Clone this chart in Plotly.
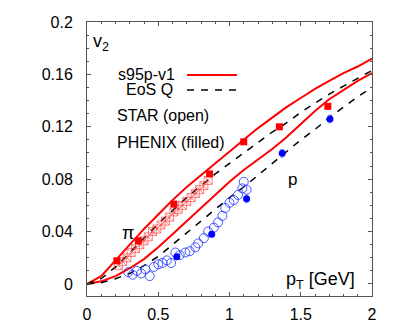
import plotly.graph_objects as go

# --- hydro curves (pT in GeV, v2) ---
pt_curve = [0.0, 0.1, 0.2, 0.3, 0.4, 0.5, 0.6, 0.7, 0.8, 0.9, 1.0, 1.1, 1.2, 1.3, 1.4, 1.5, 1.6, 1.7, 1.8, 1.9, 2.0]
pion_s95p = [0.0, 0.006, 0.018, 0.030, 0.042, 0.053, 0.064, 0.074, 0.083, 0.092, 0.101, 0.110, 0.119, 0.127, 0.135, 0.142, 0.149, 0.155, 0.161, 0.166, 0.172]
proton_s95p = [0.0, 0.002, 0.006, 0.012, 0.019, 0.028, 0.038, 0.048, 0.058, 0.068, 0.078, 0.087, 0.095, 0.103, 0.112, 0.122, 0.132, 0.141, 0.148, 0.155, 0.161]
pion_eosq = [0.0, 0.004, 0.013, 0.024, 0.035, 0.046, 0.056, 0.066, 0.075, 0.084, 0.092, 0.100, 0.108, 0.116, 0.123, 0.131, 0.138, 0.145, 0.151, 0.157, 0.163]
proton_eosq = [0.0, 0.001, 0.004, 0.008, 0.014, 0.021, 0.030, 0.039, 0.048, 0.057, 0.066, 0.074, 0.083, 0.092, 0.101, 0.110, 0.118, 0.127, 0.135, 0.143, 0.150]

# --- STAR (open) ---
star_pi_pt = [0.22, 0.25, 0.28, 0.31, 0.34, 0.37, 0.40, 0.43, 0.46, 0.49, 0.52, 0.55, 0.58, 0.61, 0.64, 0.67, 0.70, 0.73, 0.76, 0.79, 0.82, 0.85]
star_pi_v2 = [0.014, 0.017, 0.020, 0.024, 0.027, 0.030, 0.033, 0.036, 0.040, 0.042, 0.045, 0.048, 0.051, 0.055, 0.057, 0.060, 0.063, 0.066, 0.069, 0.072, 0.075, 0.079]
star_p_pt = [0.29, 0.32, 0.35, 0.38, 0.41, 0.44, 0.47, 0.50, 0.53, 0.56, 0.59, 0.62, 0.65, 0.69, 0.72, 0.76, 0.78, 0.82, 0.85, 0.89, 0.92, 0.95, 0.97, 1.00, 1.03, 1.06, 1.09, 1.10, 1.12]
star_p_v2 = [0.009, 0.007, 0.010, 0.008, 0.011, 0.006, 0.013, 0.015, 0.016, 0.018, 0.016, 0.024, 0.022, 0.024, 0.025, 0.028, 0.031, 0.035, 0.040, 0.043, 0.047, 0.052, 0.058, 0.062, 0.064, 0.068, 0.073, 0.078, 0.072]

# --- PHENIX (filled) ---
phenix_pi_pt = [0.21, 0.36, 0.61, 0.86, 1.10, 1.35, 1.69]
phenix_pi_v2 = [0.0177, 0.033, 0.061, 0.084, 0.1085, 0.120, 0.1356]
phenix_p_pt = [0.63, 0.875, 1.12, 1.37, 1.705]
phenix_p_v2 = [0.0208, 0.038, 0.065, 0.0997, 0.126]
phenix_p_err = [0.002, 0.002, 0.003, 0.003, 0.003]

x_ticks = [0, 0.5, 1, 1.5, 2]
x_tick_text = ["0", "0.5", "1", "1.5", "2"]
y_ticks = [0, 0.04, 0.08, 0.12, 0.16, 0.2]
y_tick_text = ["0", "0.04", "0.08", "0.12", "0.16", "0.2"]

FONT = "Liberation Sans, Arial, Helvetica, sans-serif"

fig = go.Figure()
for y in (pion_s95p, proton_s95p):
    fig.add_trace(go.Scatter(x=pt_curve, y=y, mode="lines",
                             line=dict(color="#ff0000", width=2)))
for y in (pion_eosq, proton_eosq):
    fig.add_trace(go.Scatter(x=pt_curve, y=y, mode="lines",
                             line=dict(color="black", width=1.5, dash="7px,7px")))

fig.add_trace(go.Scatter(x=star_pi_pt, y=star_pi_v2, mode="markers",
                         marker=dict(symbol="square-x-open", size=8, color="rgba(255,50,50,0.6)",
                                     line=dict(width=1))))
fig.add_trace(go.Scatter(x=star_p_pt, y=star_p_v2, mode="markers",
                         marker=dict(symbol="circle-open", size=9, color="rgba(40,60,255,0.85)",
                                     line=dict(width=1))))
fig.add_trace(go.Scatter(x=phenix_pi_pt, y=phenix_pi_v2, mode="markers",
                         marker=dict(symbol="square", size=7, color="#ff0000")))
fig.add_trace(go.Scatter(x=phenix_p_pt, y=phenix_p_v2, mode="markers",
                         error_y=dict(type="data", array=phenix_p_err, color="rgba(80,100,255,0.6)",
                                      thickness=1, width=2),
                         marker=dict(symbol="circle", size=7, color="#0000ff")))

axis_common = dict(showline=True, linecolor="#555", linewidth=1, mirror="allticks",
                   ticks="inside", ticklen=4, tickcolor="#555", showgrid=False, zeroline=False,
                   automargin=False,
                   tickfont=dict(family=FONT, size=16, color="black"))
fig.update_xaxes(range=[0, 2], tickvals=x_ticks, ticktext=x_tick_text,
                 minor=dict(dtick=0.1, ticks="inside", ticklen=2, tickcolor="#555"),
                 ticklabelstandoff=4, **axis_common)
fig.update_yaxes(range=[-0.0092, 0.2], tickvals=y_ticks, ticktext=y_tick_text,
                 minor=dict(dtick=0.01, ticks="inside", ticklen=2, tickcolor="#555"),
                 ticklabelstandoff=10, **axis_common)

ann = [
    dict(x=0.025, y=0.1840, xref="x", yref="y", text="v<sub>2</sub>", xanchor="left", yanchor="middle",
         font=dict(size=18)),
    dict(x=0.29, y=0.039, xref="x", yref="y", text="π", xanchor="center", yanchor="middle",
         font=dict(size=18)),
    dict(x=1.44, y=0.080, xref="x", yref="y", text="p", xanchor="center", yanchor="middle",
         font=dict(size=17)),
    dict(x=1.895, y=0.0025, xref="x", yref="y", text="p<sub>T</sub> [GeV]", xanchor="right", yanchor="middle",
         font=dict(size=18)),
    dict(x=0.316, y=0.807, xref="paper", yref="paper", text="s95p-v1", xanchor="right", yanchor="middle",
         font=dict(size=16)),
    dict(x=0.309, y=0.752, xref="paper", yref="paper", text="EoS Q", xanchor="right", yanchor="middle",
         font=dict(size=16)),
    dict(x=0.098, y=0.660, xref="paper", yref="paper", text="STAR (open)", xanchor="left", yanchor="middle",
         font=dict(size=16)),
    dict(x=0.098, y=0.562, xref="paper", yref="paper", text="PHENIX (filled)", xanchor="left", yanchor="middle",
         font=dict(size=16)),
]
for a in ann:
    a["showarrow"] = False
    a["font"]["family"] = FONT
    a["font"]["color"] = "black"

shapes = [
    dict(type="line", xref="paper", yref="paper", x0=0.351, x1=0.526, y0=0.807, y1=0.807,
         line=dict(color="#ff0000", width=2)),
    dict(type="line", xref="paper", yref="paper", x0=0.351, x1=0.526, y0=0.752, y1=0.752,
         line=dict(color="black", width=1.5, dash="7px,7px")),
]

fig.update_layout(width=403, height=332, margin=dict(l=87, r=31, t=22, b=36),
                  paper_bgcolor="white", plot_bgcolor="white", showlegend=False,
                  annotations=ann, shapes=shapes, font=dict(family=FONT, size=16, color="black"))

fig.write_html("out.html", config={"displayModeBar": False},
               post_script="document.body.style.margin='0';")
